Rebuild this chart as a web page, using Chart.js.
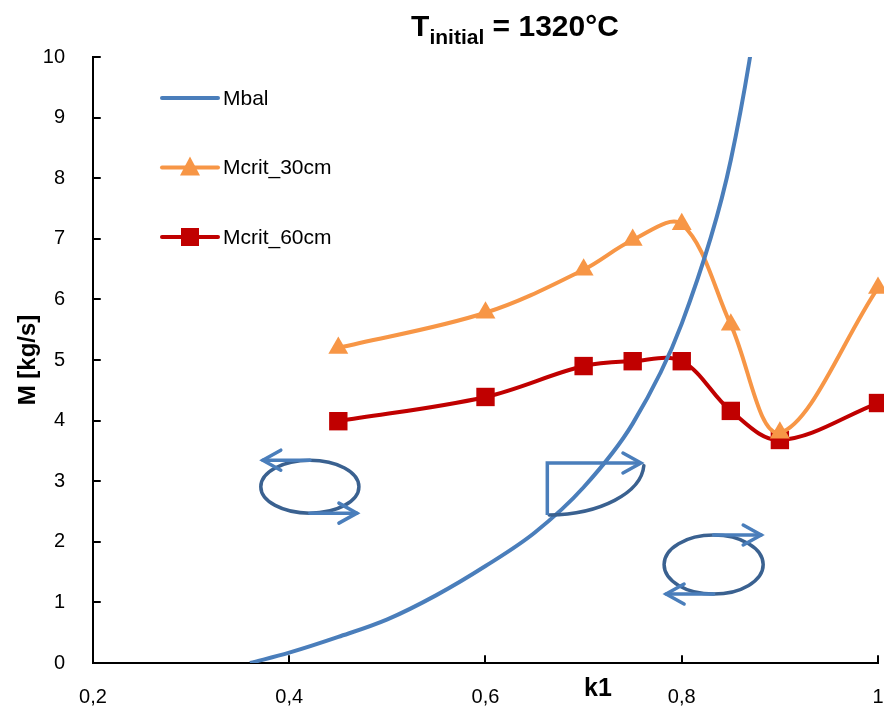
<!DOCTYPE html>
<html>
<head>
<meta charset="utf-8">
<script src="https://cdn.jsdelivr.net/npm/chart.js@4.4.1/dist/chart.umd.min.js"></script>
<style>
  html, body { margin: 0; padding: 0; background: #fff; }
  #wrap { width: 884px; height: 712px; position: relative; }
</style>
</head>
<body>
<div id="wrap"><canvas id="chart"></canvas></div>
<script>
// values
var mbalK  = [0.36, 0.40, 0.45, 0.50, 0.55, 0.60, 0.65, 0.70, 0.75, 0.80, 0.85, 0.90];
var mbalM  = [0, 0.17, 0.43, 0.72, 1.12, 1.60, 2.15, 2.90, 3.95, 5.60, 8.30, 13.2];
var critK  = [0.45, 0.60, 0.70, 0.75, 0.80, 0.85, 0.90, 1.00];
var mcrit30 = [5.20, 5.78, 6.49, 6.98, 7.24, 5.58, 3.80, 6.19];
var mcrit60 = [3.99, 4.39, 4.90, 4.98, 4.98, 4.16, 3.68, 4.29];
var xTicks = [0.2, 0.4, 0.6, 0.8, 1.0];
var yTicks = [0, 1, 2, 3, 4, 5, 6, 7, 8, 9, 10];

// circulation sketches (data coords): ellipse centre, radii
var loops = [
    {x: 0.421, y: 2.91, rx: 0.050, ry: 0.437, topDir: -1},
    {x: 0.8325, y: 1.625, rx: 0.0505, ry: 0.487, topDir: 1}
];
var corner = {x: 0.663, y: 3.30, rx: 0.0985, ry: 0.858};

var FONT = "'Liberation Sans', Arial, sans-serif";
var BLUE = '#4A7EBB', ORANGE = '#F79646', RED = '#C00000';
var DARK = '#3A6190', ARROW = '#4A7EBB';

function pts(xs, ys)
{
    return xs.map(function(x, i) { return {x: x, y: ys[i]}; });
}

function decimalComma(v)
{
    return String(Math.round(v * 10) / 10).replace('.', ',');
}

function arrowHead(ctx, tx, ty, dir)
{
    ctx.beginPath();
    ctx.moveTo(tx - dir * 18, ty - 10);
    ctx.lineTo(tx, ty);
    ctx.lineTo(tx - dir * 18, ty + 10);
    ctx.stroke();
}

var decorations = {
    id: 'decorations',
    afterDatasetsDraw: function(chart) {
        var ctx = chart.ctx, xs = chart.scales.x, ys = chart.scales.y;
        var area = chart.chartArea;
        ctx.save();
        ctx.lineCap = 'round';

        // inward tick marks
        ctx.strokeStyle = '#000';
        ctx.lineWidth = 2;
        xTicks.forEach(function(v) {
            var px = Math.round(xs.getPixelForValue(v));
            ctx.beginPath(); ctx.moveTo(px, area.bottom); ctx.lineTo(px, area.bottom - 7); ctx.stroke();
        });
        yTicks.forEach(function(v) {
            var py = Math.round(ys.getPixelForValue(v));
            ctx.beginPath(); ctx.moveTo(area.left, py); ctx.lineTo(area.left + 7, py); ctx.stroke();
        });

        // loops
        ctx.lineWidth = 3.5;
        loops.forEach(function(l) {
            var cx = xs.getPixelForValue(l.x), cy = ys.getPixelForValue(l.y);
            var rx = xs.getPixelForValue(l.x + l.rx) - cx;
            var ry = cy - ys.getPixelForValue(l.y + l.ry);
            ctx.strokeStyle = DARK;
            ctx.beginPath(); ctx.ellipse(cx, cy, rx, ry, 0, 0, Math.PI * 2); ctx.stroke();
            ctx.strokeStyle = ARROW;
            var top = cy - ry, bot = cy + ry;
            var tTip = cx + l.topDir * (rx - 2), bTip = cx - l.topDir * (rx - 2);
            ctx.beginPath(); ctx.moveTo(cx, top); ctx.lineTo(tTip, top); ctx.stroke();
            arrowHead(ctx, tTip, top, l.topDir);
            ctx.beginPath(); ctx.moveTo(cx, bot); ctx.lineTo(bTip, bot); ctx.stroke();
            arrowHead(ctx, bTip, bot, -l.topDir);
        });

        // corner sketch
        var ccx = xs.getPixelForValue(corner.x), ccy = ys.getPixelForValue(corner.y);
        var crx = xs.getPixelForValue(corner.x + corner.rx) - ccx;
        var cry = ys.getPixelForValue(corner.y - corner.ry) - ccy;
        ctx.strokeStyle = DARK;
        ctx.beginPath(); ctx.ellipse(ccx, ccy, crx, cry, 0, 0.05, Math.PI / 2 - 0.02); ctx.stroke();
        ctx.strokeStyle = ARROW;
        ctx.lineCap = 'butt';
        ctx.beginPath();
        ctx.moveTo(ccx, ccy + cry);
        ctx.lineTo(ccx, ccy);
        ctx.lineTo(ccx + crx - 3, ccy);
        ctx.stroke();
        ctx.lineCap = 'round';
        arrowHead(ctx, ccx + crx - 3, ccy, 1);

        // legend
        var rows = [
            {label: 'Mbal', color: BLUE, style: null},
            {label: 'Mcrit_30cm', color: ORANGE, style: 'triangle'},
            {label: 'Mcrit_60cm', color: RED, style: 'rect'}
        ];
        var lx = area.left + 69, ly = area.top + 41;
        ctx.font = '21px ' + FONT;
        ctx.textBaseline = 'middle';
        ctx.textAlign = 'left';
        rows.forEach(function(r, i) {
            var y = ly + i * 69.5;
            ctx.strokeStyle = r.color;
            ctx.lineWidth = 4;
            ctx.beginPath(); ctx.moveTo(lx, y); ctx.lineTo(lx + 56, y); ctx.stroke();
            ctx.fillStyle = r.color;
            if (r.style === 'triangle') {
                ctx.beginPath();
                ctx.moveTo(lx + 28, y - 11); ctx.lineTo(lx + 38, y + 8); ctx.lineTo(lx + 18, y + 8);
                ctx.closePath(); ctx.fill();
            } else if (r.style === 'rect') {
                ctx.fillRect(lx + 19, y - 9, 18, 18);
            }
            ctx.fillStyle = '#000';
            ctx.fillText(r.label, lx + 61, y + 1);
        });

        // x axis title
        ctx.font = 'bold 25px ' + FONT;
        ctx.textAlign = 'center';
        ctx.fillText('k1', 598, 689);

        // chart title with subscript
        var big = 'bold 30px ' + FONT, small = 'bold 21px ' + FONT;
        ctx.font = big; var w1 = ctx.measureText('T').width;
        var w3 = ctx.measureText(' = 1320°C').width;
        ctx.font = small; var w2 = ctx.measureText('initial').width;
        var x0 = 515 - (w1 + w2 + w3) / 2;
        ctx.textAlign = 'left';
        ctx.textBaseline = 'alphabetic';
        ctx.font = big; ctx.fillText('T', x0, 36);
        ctx.font = small; ctx.fillText('initial', x0 + w1, 44);
        ctx.font = big; ctx.fillText(' = 1320°C', x0 + w1 + w2, 36);
        ctx.restore();
    }
};

new Chart(document.getElementById('chart'), {
    type: 'line',
    data: {
        datasets: [{
            label: 'Mbal',
            data: pts(mbalK, mbalM),
            borderColor: BLUE,
            borderWidth: 4,
            pointRadius: 0,
            tension: 0.35
        }, {
            label: 'Mcrit_30cm',
            data: pts(critK, mcrit30),
            borderColor: ORANGE,
            backgroundColor: ORANGE,
            borderWidth: 4,
            pointStyle: 'triangle',
            pointRadius: 11.5,
            pointBorderWidth: 0,
            tension: 0.35,
            clip: false
        }, {
            label: 'Mcrit_60cm',
            data: pts(critK, mcrit60),
            borderColor: RED,
            backgroundColor: RED,
            borderWidth: 4,
            pointStyle: 'rect',
            pointRadius: 13,
            pointBorderWidth: 0,
            tension: 0.35,
            clip: false
        }]
    },
    options: {
        responsive: true,
        maintainAspectRatio: false,
        animation: false,
        layout: { autoPadding: false, padding: { top: 57, right: 6, left: 0, bottom: 0 } },
        plugins: { legend: { display: false }, tooltip: { enabled: false } },
        scales: {
            x: {
                type: 'linear',
                min: 0.2, max: 1,
                afterBuildTicks: function(s) { s.ticks = xTicks.map(function(v) { return {value: v}; }); },
                afterFit: function(s) { s.height = 49; s.paddingLeft = 0; s.paddingRight = 0; },
                grid: { display: false },
                border: { display: true, color: '#000', width: 2 },
                ticks: {
                    color: '#000', padding: 14, maxRotation: 0,
                    font: { family: FONT, size: 20 },
                    callback: function(v) { return decimalComma(v); }
                }
            },
            y: {
                min: 0, max: 10,
                afterBuildTicks: function(s) { s.ticks = yTicks.map(function(v) { return {value: v}; }); },
                afterFit: function(s) { s.width = 93; s.paddingTop = 0; s.paddingBottom = 0; },
                grid: { display: false },
                border: { display: true, color: '#000', width: 2 },
                title: {
                    display: true, text: 'M [kg/s]', color: '#000',
                    font: { family: FONT, size: 24, weight: 'bold' },
                    padding: { top: 14 }
                },
                ticks: {
                    color: '#000', padding: 20,
                    font: { family: FONT, size: 20 }
                }
            }
        }
    },
    plugins: [decorations]
});
</script>
</body>
</html>
